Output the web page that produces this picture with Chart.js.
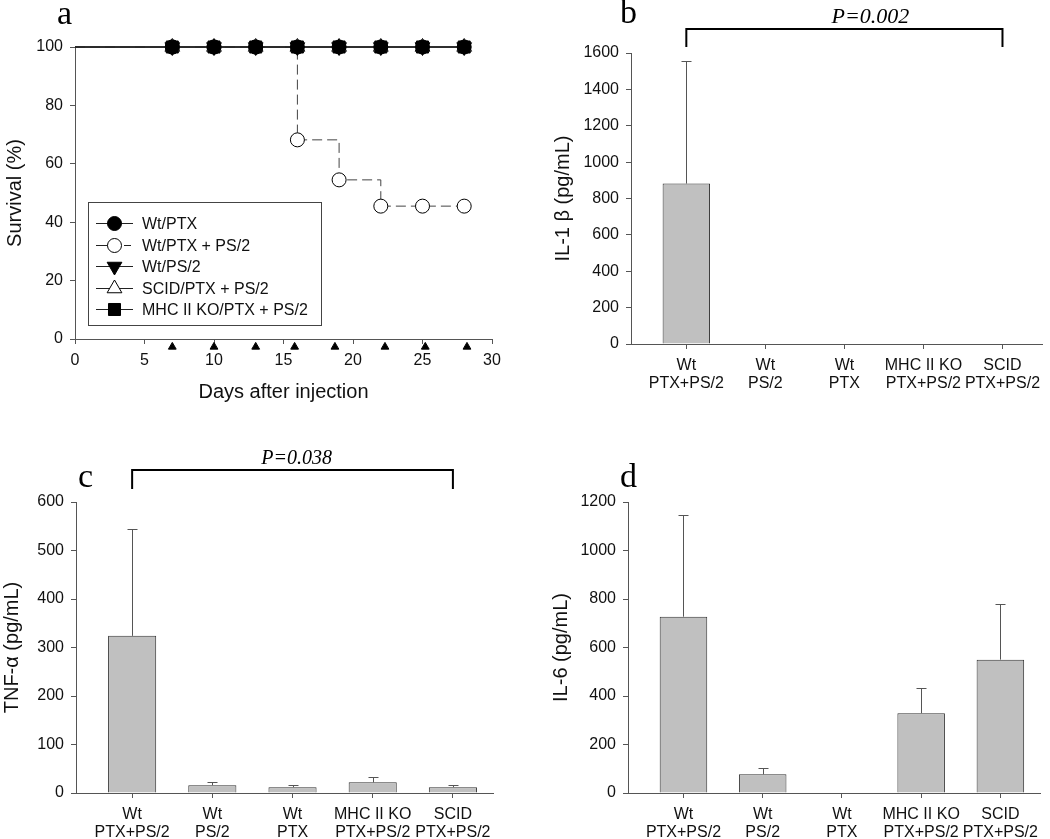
<!DOCTYPE html>
<html>
<head>
<meta charset="utf-8">
<script src="https://cdn.jsdelivr.net/npm/chart.js@4.4.0/dist/chart.umd.min.js"></script>
<style>
  html, body { margin: 0; padding: 0; background: #fff; }
  body { width: 1050px; height: 839px; position: relative; overflow: hidden; }
  canvas { position: absolute; }
</style>
</head>
<body>
<canvas id="ca" width="525" height="420" style="left:0;top:0"></canvas>
<canvas id="cb" width="525" height="420" style="left:525px;top:0"></canvas>
<canvas id="cc" width="525" height="419" style="left:0;top:420px"></canvas>
<canvas id="cd" width="525" height="419" style="left:525px;top:420px"></canvas>
<script>
// ---------------- DATA ----------------
// Panel a: survival
const days = [0, 7, 10, 13, 16, 19, 22, 25, 28];
const survWtPTX      = [100, 100, 100, 100, 100, 100, 100, 100, 100];
const survWtPTXPS2   = [100, 100, 100, 100, 68.2, 54.5, 45.5, 45.5, 45.5];
const survWtPS2      = [100, 100, 100, 100, 100, 100, 100, 100, 100];
const survSCID       = [100, 100, 100, 100, 100, 100, 100, 100, 100];
const survMHC        = [100, 100, 100, 100, 100, 100, 100, 100, 100];
const seriesNames = ['Wt/PTX', 'Wt/PTX + PS/2', 'Wt/PS/2', 'SCID/PTX + PS/2', 'MHC II KO/PTX + PS/2'];
const injectionDays = [7, 10, 13, 15.8, 18.7, 22.3, 25.2, 28.2];
const injectionLevel = -2.7;
const survXTicks = [0, 5, 10, 15, 20, 25, 30];
const survYTicks = [0, 20, 40, 60, 80, 100];

// Bar panels
const groups = [['Wt', 'PTX+PS/2'], ['Wt', 'PS/2'], ['Wt', 'PTX'], ['MHC II KO', 'PTX+PS/2'], ['SCID', 'PTX+PS/2']];
const il1bMean = [882, 0, 0, 0, 0];
const il1bErr  = [672, 0, 0, 0, 0];
const tnfMean  = [324, 16, 12, 22, 12];
const tnfErr   = [221, 6, 5, 10, 5];
const il6Mean  = [727, 77, 0, 329, 550];
const il6Err   = [418, 28, 0, 103, 229];
const il1bTicks = [0, 200, 400, 600, 800, 1000, 1200, 1400, 1600];
const tnfTicks  = [0, 100, 200, 300, 400, 500, 600];
const il6Ticks  = [0, 200, 400, 600, 800, 1000, 1200];
const pValueB = 'P=0.002';
const pValueC = 'P=0.038';

// ---------------- STYLE HELPERS ----------------
const SANS = '"Liberation Sans", Arial, sans-serif';
const SERIF = '"Liberation Serif", "Times New Roman", serif';
const AXIS = '#555';
Chart.defaults.font.family = SANS;
Chart.defaults.color = '#111';
Chart.defaults.animation = false;

function drawMarker(ctx, style, x, y, r, fill, stroke, rot) {
  ctx.save();
  ctx.beginPath();
  if (style === 'circle') {
    ctx.arc(x, y, r, 0, Math.PI * 2);
  } else if (style === 'triangle') {
    let a = (rot || 0) * Math.PI / 180;
    ctx.moveTo(x + Math.sin(a) * r, y - Math.cos(a) * r);
    a += 2 * Math.PI / 3;
    ctx.lineTo(x + Math.sin(a) * r, y - Math.cos(a) * r);
    a += 2 * Math.PI / 3;
    ctx.lineTo(x + Math.sin(a) * r, y - Math.cos(a) * r);
    ctx.closePath();
  } else if (style === 'rect') {
    const s = r / Math.SQRT2;
    ctx.rect(x - s, y - s, 2 * s, 2 * s);
  }
  ctx.fillStyle = fill; ctx.fill();
  ctx.strokeStyle = stroke; ctx.lineWidth = 1; ctx.stroke();
  ctx.restore();
}

const panelLetter = {
  id: 'panelLetter',
  afterDraw(chart, args, opts) {
    const ctx = chart.ctx;
    ctx.save();
    ctx.font = '34px ' + SERIF;
    ctx.fillStyle = '#000';
    ctx.textBaseline = 'alphabetic';
    ctx.textAlign = 'left';
    ctx.fillText(opts.text, opts.x, opts.y);
    ctx.restore();
  }
};

function fixAxisX(h) {
  return function (scale) { scale.height = h; scale.paddingLeft = 0; scale.paddingRight = 0; };
}
function fixAxisY(w) {
  return function (scale) { scale.width = w; scale.paddingTop = 0; scale.paddingBottom = 0; };
}
const plainNum = v => String(v);

// ---------------- PANEL A ----------------
const seriesStyles = [
  { style: 'circle', r: 7, fill: '#000', rot: 0, dash: [] },
  { style: 'circle', r: 7, fill: '#fff', rot: 0, dash: [10, 5] },
  { style: 'triangle', r: 8.5, fill: '#000', rot: 180, dash: [] },
  { style: 'triangle', r: 8.5, fill: '#fff', rot: 0, dash: [] },
  { style: 'rect', r: 8.5, fill: '#000', rot: 0, dash: [] }
];
// lower "order" is drawn on top
const drawOrder = [0, 4, 1, 2, 3];
const survSeries = [survWtPTX, survWtPTXPS2, survWtPS2, survSCID, survMHC];

const survDatasets = survSeries.map((vals, i) => {
  const st = seriesStyles[i];
  return {
    label: seriesNames[i],
    data: days.map((d, k) => ({ x: d, y: vals[k] })),
    borderColor: i === 1 ? '#444' : '#222',
    borderWidth: 1,
    borderDash: st.dash,
    stepped: 'before',
    pointStyle: st.style,
    pointRotation: st.rot,
    pointRadius: ctx => (ctx.dataIndex === 0 ? 0 : st.r),
    pointHoverRadius: ctx => (ctx.dataIndex === 0 ? 0 : st.r),
    pointBackgroundColor: st.fill,
    pointBorderColor: '#000',
    pointBorderWidth: 1,
    fill: false,
    order: drawOrder[i],
    clip: false
  };
});
survDatasets.push({
  label: 'injection',
  data: injectionDays.map(d => ({ x: d, y: injectionLevel })),
  showLine: false,
  pointStyle: 'triangle',
  pointRadius: 4.5,
  pointHoverRadius: 14,
  pointBackgroundColor: '#000',
  pointBorderColor: '#000',
  pointBorderWidth: 1,
  clip: false,
  order: 5
});

const boxLegend = {
  id: 'boxLegend',
  afterDatasetsDraw(chart) {
    const ctx = chart.ctx;
    const x0 = 88, y0 = 202, w = 233, h = 123;
    ctx.save();
    ctx.fillStyle = '#fff';
    ctx.fillRect(x0, y0, w, h);
    ctx.strokeStyle = '#444';
    ctx.lineWidth = 1;
    ctx.strokeRect(x0 + 0.5, y0 + 0.5, w, h);
    ctx.font = '16px ' + SANS;
    ctx.textBaseline = 'middle';
    ctx.fillStyle = '#111';
    seriesNames.forEach((name, i) => {
      const st = seriesStyles[i];
      const yy = Math.round(y0 + 21 + i * 21.5) + 0.5;
      ctx.save();
      ctx.strokeStyle = '#222';
      ctx.lineWidth = 1;
      ctx.beginPath();
      if (st.dash.length) {
        ctx.moveTo(96, yy); ctx.lineTo(112, yy);
        ctx.moveTo(124, yy); ctx.lineTo(131, yy);
      } else {
        ctx.moveTo(96, yy); ctx.lineTo(133, yy);
      }
      ctx.stroke();
      ctx.restore();
      drawMarker(ctx, st.style, 114.5, yy, st.r, st.fill, '#000', st.rot);
      ctx.fillText(name, 142, yy + 1);
    });
    ctx.restore();
  }
};

new Chart(document.getElementById('ca'), {
  type: 'line',
  data: { datasets: survDatasets },
  options: {
    responsive: false,
    events: [],
    layout: { padding: { top: 47, right: 33, left: 0, bottom: 0 } },
    plugins: {
      legend: { display: false },
      tooltip: { enabled: false },
      panelLetter: { text: 'a', x: 57, y: 24 }
    },
    scales: {
      x: {
        type: 'linear', min: 0, max: 30,
        afterBuildTicks: s => { s.ticks = survXTicks.map(v => ({ value: v })); },
        afterFit: fixAxisX(81),
        grid: { drawOnChartArea: false, drawTicks: true, tickLength: 5, color: AXIS },
        border: { display: true, color: AXIS, width: 1 },
        ticks: { font: { size: 16, lineHeight: 1.17 }, padding: 7, color: '#111', maxRotation: 0, callback: plainNum },
        title: { display: true, text: 'Days after injection', font: { size: 20, lineHeight: 1.2 }, color: '#111', padding: { top: 0, bottom: 16 } }
      },
      y: {
        type: 'linear', min: 0, max: 100,
        afterBuildTicks: s => { s.ticks = survYTicks.map(v => ({ value: v })); },
        afterFit: fixAxisY(75),
        grid: { drawOnChartArea: false, drawTicks: true, tickLength: 5, color: AXIS },
        border: { display: true, color: AXIS, width: 1 },
        ticks: { font: { size: 16 }, padding: 7, color: '#111', callback: plainNum },
        title: { display: true, text: 'Survival (%)', font: { size: 20, lineHeight: 1.2 }, color: '#111', padding: { top: 3, bottom: 0 } }
      }
    }
  },
  plugins: [boxLegend, panelLetter]
});

// ---------------- BAR PANELS ----------------
const errorBars = {
  id: 'errorBars',
  afterDatasetsDraw(chart, args, opts) {
    const ctx = chart.ctx;
    const ys = chart.scales.y;
    const meta = chart.getDatasetMeta(0);
    const ds = chart.data.datasets[0].data;
    ctx.save();
    ctx.strokeStyle = '#555';
    ctx.lineWidth = 1;
    meta.data.forEach((bar, i) => {
      const e = opts.errors[i];
      if (!e) return;
      const v = ds[i].y;
      const px = Math.round(bar.x) + 0.5;
      const top = ys.getPixelForValue(v);
      const end = Math.round(ys.getPixelForValue(v + e)) + 0.5;
      ctx.beginPath();
      ctx.moveTo(px, top);
      ctx.lineTo(px, end);
      ctx.moveTo(px - 5, end);
      ctx.lineTo(px + 5, end);
      ctx.stroke();
    });
    ctx.restore();
  }
};

const bracket = {
  id: 'bracket',
  afterDraw(chart, args, opts) {
    if (!opts.text) return;
    const ctx = chart.ctx;
    const xs = chart.scales.x;
    const top = chart.chartArea.top;
    const x1 = xs.getPixelForValue(opts.from), x2 = xs.getPixelForValue(opts.to);
    const yTop = top - opts.rise, yEnd = top - opts.gap;
    ctx.save();
    ctx.strokeStyle = '#000';
    ctx.lineWidth = 2;
    ctx.beginPath();
    ctx.moveTo(x1, yEnd);
    ctx.lineTo(x1, yTop);
    ctx.lineTo(x2, yTop);
    ctx.lineTo(x2, yEnd);
    ctx.stroke();
    ctx.font = 'italic ' + opts.size + 'px ' + SERIF;
    ctx.fillStyle = '#000';
    ctx.textAlign = 'center';
    ctx.textBaseline = 'alphabetic';
    ctx.fillText(opts.text, (x1 + x2) / 2 + opts.shift, yTop - 6);
    ctx.restore();
  }
};

function barChart(id, means, errs, yTicks, yTitle, cfg) {
  return new Chart(document.getElementById(id), {
    type: 'bar',
    data: {
      datasets: [{
        data: means.map((m, i) => ({ x: i + 1, y: m })),
        backgroundColor: '#c0c0c0',
        borderColor: '#333',
        borderWidth: 1,
        borderSkipped: 'bottom',
        barPercentage: 0.6,
        categoryPercentage: 1
      }]
    },
    options: {
      responsive: false,
      events: [],
      layout: { padding: { top: cfg.top, right: cfg.right, left: 0, bottom: 0 } },
      plugins: {
        legend: { display: false },
        tooltip: { enabled: false },
        errorBars: { errors: errs },
        bracket: cfg.bracket || {},
        panelLetter: cfg.letter
      },
      scales: {
        x: {
          type: 'linear', min: 0.3, max: 5.5, offset: false,
          afterBuildTicks: s => { s.ticks = groups.map((g, i) => ({ value: i + 1 })); },
          afterFit: fixAxisX(cfg.xh),
          grid: { offset: false, drawOnChartArea: false, drawTicks: true, tickLength: 5, color: AXIS },
          border: { display: true, color: AXIS, width: 1 },
          ticks: {
            font: { size: 16, lineHeight: 1.17 }, padding: 7, color: '#111', maxRotation: 0, autoSkip: false,
            callback: v => groups[Math.round(v) - 1]
          }
        },
        y: {
          type: 'linear', min: yTicks[0], max: yTicks[yTicks.length - 1],
          afterBuildTicks: s => { s.ticks = yTicks.map(v => ({ value: v })); },
          afterFit: fixAxisY(cfg.yw),
          grid: { drawOnChartArea: false, drawTicks: true, tickLength: 5, color: AXIS },
          border: { display: true, color: AXIS, width: 1 },
          ticks: { font: { size: 16 }, padding: 7, color: '#111', callback: plainNum },
          title: { display: true, text: yTitle, font: { size: 20, lineHeight: 1.2 }, color: '#111', padding: { top: cfg.tp, bottom: 0 } }
        }
      }
    },
    plugins: [errorBars, bracket, panelLetter]
  });
}

barChart('cb', il1bMean, il1bErr, il1bTicks, 'IL-1 \u03B2 (pg/mL)', {
  top: 53, right: 8, xh: 76, yw: 106, tp: 26,
  bracket: { text: pValueB, from: 1, to: 5, rise: 24, gap: 6, shift: 26, size: 22 },
  letter: { text: 'b', x: 95, y: 23 }
});
barChart('cc', tnfMean, tnfErr, tnfTicks, 'TNF-\u03B1 (pg/mL)', {
  top: 82, right: 32, xh: 46, yw: 76, tp: 0,
  bracket: { text: pValueC, from: 1, to: 5, rise: 32, gap: 13, shift: 4, size: 20 },
  letter: { text: 'c', x: 78, y: 67 }
});
barChart('cd', il6Mean, il6Err, il6Ticks, 'IL-6 (pg/mL)', {
  top: 82, right: 10, xh: 46, yw: 103, tp: 24,
  letter: { text: 'd', x: 95, y: 67 }
});
</script>
</body>
</html>
